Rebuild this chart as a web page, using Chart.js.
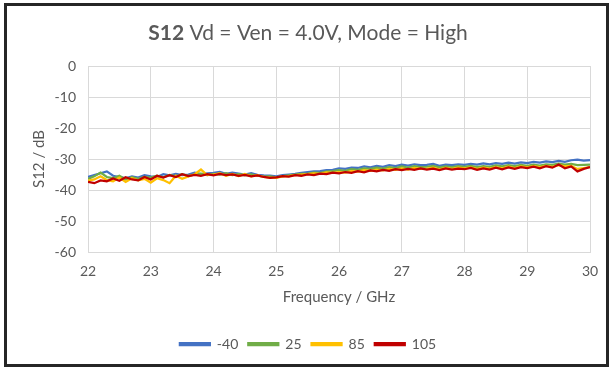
<!DOCTYPE html>
<html>
<head>
<meta charset="utf-8">
<script src="https://cdn.jsdelivr.net/npm/chart.js@4/dist/chart.umd.min.js"></script>
<style>
  body { margin: 0; background: #fff; }
  #wrap { position: absolute; left: 0; top: 0; width: 611px; height: 369px; }
  #frame { position: absolute; left: 4px; top: 3px; width: 599px; height: 358px; border: 3px solid #262626; pointer-events: none; }
</style>
</head>
<body>
<div id="wrap"><canvas id="chartJsCanvas" width="611" height="369"></canvas></div>
<div id="frame"></div>
<script>
// frequency points, 22.0 .. 30.0 GHz in 0.1 GHz steps
const freqGHz = Array.from({length: 81}, (_, i) => +(22 + i * 0.1).toFixed(1));

const s12_m40 = [
  -35.8, -35.2, -34.6, -34.0, -35.4, -35.8, -36.2, -35.6, -36.0, -35.2,
  -35.6, -35.8, -34.9, -35.3, -34.8, -35.2, -35.0, -34.4, -34.9, -34.6,
  -34.5, -34.2, -34.8, -34.4, -34.7, -35.0, -34.6, -35.1, -35.3, -35.4,
  -35.6, -35.2, -35.0, -34.8, -34.5, -34.2, -34.0, -33.9, -33.6, -33.5,
  -33.0, -33.2, -32.8, -32.9, -32.4, -32.7, -32.2, -32.5, -32.0, -32.3,
  -31.8, -32.1, -31.7, -32.0, -31.9, -31.6, -32.2, -31.8, -32.0, -31.7,
  -31.9, -31.6, -31.8, -31.4, -31.7, -31.3, -31.6, -31.2, -31.5, -31.1,
  -31.3, -30.9, -31.2, -30.8, -31.0, -30.6, -30.9, -30.4, -30.2, -30.5,
  -30.4
];
const s12_25 = [
  -36.4, -35.6, -34.4, -35.8, -36.2, -35.4, -36.6, -35.9, -36.4, -35.8,
  -36.0, -35.4, -35.9, -35.1, -35.6, -34.9, -35.4, -35.0, -34.7, -35.2,
  -34.8, -35.0, -34.6, -35.2, -34.9, -35.3, -35.0, -35.4, -35.7, -35.6,
  -35.9, -35.5, -35.3, -35.0, -34.8, -34.7, -34.4, -34.5, -34.1, -33.9,
  -33.6, -33.8, -33.3, -33.5, -33.0, -33.2, -32.8, -33.1, -32.6, -32.9,
  -32.4, -32.8, -32.3, -32.6, -32.5, -32.2, -32.7, -32.4, -32.6, -32.3,
  -32.5, -32.2, -32.6, -32.3, -32.5, -32.1, -32.4, -32.0, -32.3, -31.9,
  -32.2, -31.8, -32.1, -31.7, -31.9, -31.5, -31.8, -31.6, -32.0, -31.9,
  -31.8
];
const s12_85 = [
  -37.0, -36.6, -35.6, -36.8, -37.2, -36.0, -37.4, -36.2, -36.9, -36.4,
  -37.6, -36.2, -36.8, -37.8, -35.4, -36.4, -35.6, -34.9, -33.4, -35.2,
  -35.0, -34.6, -35.4, -34.8, -35.5, -34.8, -35.6, -35.2, -35.8, -36.0,
  -36.1, -35.6, -35.5, -35.2, -35.0, -34.9, -34.6, -34.8, -34.3, -34.5,
  -34.2, -34.4, -33.9, -34.1, -33.6, -33.8, -33.4, -33.7, -33.2, -33.5,
  -33.0, -33.4, -32.9, -33.2, -33.1, -32.8, -33.3, -32.9, -33.2, -32.8,
  -33.0, -32.7, -33.2, -32.8, -33.1, -32.6, -33.0, -32.5, -32.9, -32.4,
  -32.7, -32.3, -32.6, -32.2, -32.5, -32.0, -32.4, -32.2, -33.2, -32.9,
  -32.6
];
const s12_105 = [
  -37.4, -37.8, -36.9, -37.2, -36.3, -37.0, -35.9, -36.6, -36.9, -35.8,
  -36.6, -35.4, -36.0, -35.2, -35.8, -34.9, -35.5, -35.1, -35.4, -34.9,
  -35.3, -34.8, -35.2, -35.0, -35.4, -35.1, -35.6, -35.3, -35.8, -36.1,
  -35.9, -35.5, -35.7, -35.2, -35.4, -35.0, -35.2, -34.7, -34.9, -34.4,
  -34.6, -34.2, -34.5, -33.9, -34.3, -33.7, -34.0, -33.5, -33.8, -33.3,
  -33.6, -33.2, -33.5, -33.0, -33.4, -33.1, -33.6, -33.0, -33.4, -33.1,
  -33.3, -32.9, -33.5, -33.0, -33.4, -32.8, -33.3, -32.7, -33.2, -32.6,
  -32.9, -32.5, -33.0, -32.3, -32.8, -31.8, -33.0, -32.4, -34.0, -33.2,
  -32.6
];

const seriesNames = ["-40", "25", "85", "105"];
const seriesColors = ["#4472C4", "#70AD47", "#FFC000", "#C00000"];
const seriesValues = [s12_m40, s12_25, s12_85, s12_105];

const FONT = "Lato, 'Open Sans', sans-serif";
const GREY = "#595959";

// title with a bold "S12" part
const titlePlugin = {
  id: 'mixedTitle',
  afterDraw(chart) {
    const ctx = chart.ctx;
    const boldPart = "S12";
    const rest = " Vd = Ven = 4.0V, Mode = High";
    ctx.save();
    ctx.textBaseline = 'middle';
    ctx.fillStyle = GREY;
    ctx.font = "bold 21px " + FONT;
    const w1 = ctx.measureText(boldPart).width;
    ctx.font = "21px " + FONT;
    const w2 = ctx.measureText(rest).width;
    let x = 308 - (w1 + w2) / 2;
    const y = 33;
    ctx.font = "bold 21px " + FONT;
    ctx.fillText(boldPart, x, y);
    ctx.font = "21px " + FONT;
    ctx.fillText(rest, x + w1, y);
    ctx.restore();
  }
};

new Chart(document.getElementById("chartJsCanvas"), {
  type: 'line',
  data: {
    datasets: seriesValues.map((vals, k) => ({
      label: seriesNames[k],
      data: vals.map((v, i) => ({x: freqGHz[i], y: v})),
      borderColor: seriesColors[k],
      backgroundColor: seriesColors[k],
      borderWidth: 2.25,
      pointRadius: 0,
      tension: 0,
      order: 3 - k
    }))
  },
  options: {
    responsive: false,
    animation: false,
    layout: { padding: { left: 26, right: 21, top: 66, bottom: 8 } },
    scales: {
      x: {
        type: 'linear',
        min: 22, max: 30,
        ticks: { stepSize: 1, padding: 11, color: GREY, font: { family: FONT, size: 14 } },
        grid: { color: '#D9D9D9', drawTicks: false },
        border: { color: '#D9D9D9' },
        title: { display: true, text: 'Frequency / GHz', color: GREY, font: { family: FONT, size: 15 }, padding: { top: 4, bottom: 21 } },
        afterFit(scale) { scale.height = 75; }
      },
      y: {
        min: -60, max: 0,
        ticks: { stepSize: 10, padding: 12, color: GREY, font: { family: FONT, size: 14 } },
        grid: { color: '#D9D9D9', drawTicks: false },
        border: { color: '#D9D9D9' },
        title: { display: true, text: 'S12 / dB', color: GREY, font: { family: FONT, size: 15 }, padding: { top: 4, bottom: 4 } },
        afterFit(scale) { scale.width = 62; }
      }
    },
    plugins: {
      legend: {
        position: 'bottom',
        labels: {
          boxWidth: 30, boxHeight: 2, padding: 10, color: GREY,
          font: { family: FONT, size: 14 },
          sort: (a, b) => a.datasetIndex - b.datasetIndex
        }
      },
      title: { display: false },
      tooltip: { enabled: false }
    }
  },
  plugins: [titlePlugin]
});
</script>
</body>
</html>
